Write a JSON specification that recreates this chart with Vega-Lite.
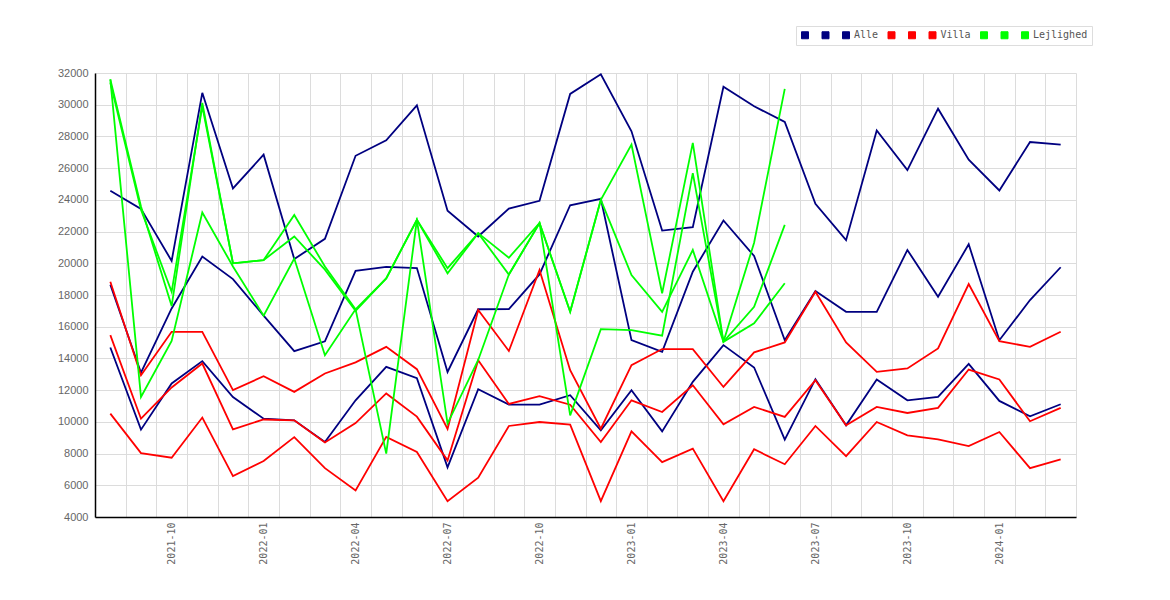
{
  "$schema": "https://vega.github.io/schema/vega-lite/v6.json",
  "width": 981,
  "height": 444,
  "autosize": {"type": "none"},
  "padding": {"left": 95, "top": 73, "right": 94, "bottom": 83},
  "background": "white",
  "config": {
    "view": {"stroke": null},
    "axis": {
      "domainColor": "#000000",
      "domainWidth": 1.5,
      "gridColor": "#dcdcdc",
      "gridWidth": 1,
      "ticks": false,
      "labelColor": "#666666",
      "title": null
    }
  },
  "datasets": {
    "prices": [
      {"m":"2021-08","s":"Alle a","v":24570},{"m":"2021-09","s":"Alle a","v":23430},{"m":"2021-10","s":"Alle a","v":20150},{"m":"2021-11","s":"Alle a","v":30750},{"m":"2021-12","s":"Alle a","v":24720},{"m":"2022-01","s":"Alle a","v":26850},{"m":"2022-02","s":"Alle a","v":20270},{"m":"2022-03","s":"Alle a","v":21540},{"m":"2022-04","s":"Alle a","v":26780},{"m":"2022-05","s":"Alle a","v":27750},{"m":"2022-06","s":"Alle a","v":29960},{"m":"2022-07","s":"Alle a","v":23310},{"m":"2022-08","s":"Alle a","v":21690},{"m":"2022-09","s":"Alle a","v":23450},{"m":"2022-10","s":"Alle a","v":23940},{"m":"2022-11","s":"Alle a","v":30680},{"m":"2022-12","s":"Alle a","v":31920},{"m":"2023-01","s":"Alle a","v":28320},{"m":"2023-02","s":"Alle a","v":22060},{"m":"2023-03","s":"Alle a","v":22280},{"m":"2023-04","s":"Alle a","v":31130},{"m":"2023-05","s":"Alle a","v":29900},{"m":"2023-06","s":"Alle a","v":28910},{"m":"2023-07","s":"Alle a","v":23750},{"m":"2023-08","s":"Alle a","v":21460},{"m":"2023-09","s":"Alle a","v":28380},{"m":"2023-10","s":"Alle a","v":25880},{"m":"2023-11","s":"Alle a","v":29750},{"m":"2023-12","s":"Alle a","v":26530},{"m":"2024-01","s":"Alle a","v":24590},{"m":"2024-02","s":"Alle a","v":27650},{"m":"2024-03","s":"Alle a","v":27480},

      {"m":"2021-08","s":"Alle b","v":14690},{"m":"2021-09","s":"Alle b","v":9510},{"m":"2021-10","s":"Alle b","v":12420},{"m":"2021-11","s":"Alle b","v":13830},{"m":"2021-12","s":"Alle b","v":11570},{"m":"2022-01","s":"Alle b","v":10200},{"m":"2022-02","s":"Alle b","v":10100},{"m":"2022-03","s":"Alle b","v":8730},{"m":"2022-04","s":"Alle b","v":11360},{"m":"2022-05","s":"Alle b","v":13470},{"m":"2022-06","s":"Alle b","v":12750},{"m":"2022-07","s":"Alle b","v":7130},{"m":"2022-08","s":"Alle b","v":12060},{"m":"2022-09","s":"Alle b","v":11090},{"m":"2022-10","s":"Alle b","v":11090},{"m":"2022-11","s":"Alle b","v":11680},{"m":"2022-12","s":"Alle b","v":9470},{"m":"2023-01","s":"Alle b","v":12000},{"m":"2023-02","s":"Alle b","v":9400},{"m":"2023-03","s":"Alle b","v":12520},{"m":"2023-04","s":"Alle b","v":14840},{"m":"2023-05","s":"Alle b","v":13430},{"m":"2023-06","s":"Alle b","v":8880},{"m":"2023-07","s":"Alle b","v":12690},{"m":"2023-08","s":"Alle b","v":9780},{"m":"2023-09","s":"Alle b","v":12670},{"m":"2023-10","s":"Alle b","v":11360},{"m":"2023-11","s":"Alle b","v":11570},{"m":"2023-12","s":"Alle b","v":13660},{"m":"2024-01","s":"Alle b","v":11320},{"m":"2024-02","s":"Alle b","v":10350},{"m":"2024-03","s":"Alle b","v":11110},

      {"m":"2021-08","s":"Alle","v":18650},{"m":"2021-09","s":"Alle","v":13100},{"m":"2021-10","s":"Alle","v":17150},{"m":"2021-11","s":"Alle","v":20420},{"m":"2021-12","s":"Alle","v":19000},{"m":"2022-01","s":"Alle","v":16700},{"m":"2022-02","s":"Alle","v":14460},{"m":"2022-03","s":"Alle","v":15080},{"m":"2022-04","s":"Alle","v":19520},{"m":"2022-05","s":"Alle","v":19770},{"m":"2022-06","s":"Alle","v":19700},{"m":"2022-07","s":"Alle","v":13150},{"m":"2022-08","s":"Alle","v":17100},{"m":"2022-09","s":"Alle","v":17110},{"m":"2022-10","s":"Alle","v":19300},{"m":"2022-11","s":"Alle","v":23660},{"m":"2022-12","s":"Alle","v":24070},{"m":"2023-01","s":"Alle","v":15150},{"m":"2023-02","s":"Alle","v":14420},{"m":"2023-03","s":"Alle","v":19470},{"m":"2023-04","s":"Alle","v":22700},{"m":"2023-05","s":"Alle","v":20460},{"m":"2023-06","s":"Alle","v":15150},{"m":"2023-07","s":"Alle","v":18250},{"m":"2023-08","s":"Alle","v":16940},{"m":"2023-09","s":"Alle","v":16940},{"m":"2023-10","s":"Alle","v":20840},{"m":"2023-11","s":"Alle","v":17890},{"m":"2023-12","s":"Alle","v":21200},{"m":"2024-01","s":"Alle","v":15150},{"m":"2024-02","s":"Alle","v":17680},{"m":"2024-03","s":"Alle","v":19750},

      {"m":"2021-08","s":"Villa a","v":18840},{"m":"2021-09","s":"Villa a","v":12940},{"m":"2021-10","s":"Villa a","v":15680},{"m":"2021-11","s":"Villa a","v":15680},{"m":"2021-12","s":"Villa a","v":12000},{"m":"2022-01","s":"Villa a","v":12880},{"m":"2022-02","s":"Villa a","v":11890},{"m":"2022-03","s":"Villa a","v":13050},{"m":"2022-04","s":"Villa a","v":13750},{"m":"2022-05","s":"Villa a","v":14730},{"m":"2022-06","s":"Villa a","v":13320},{"m":"2022-07","s":"Villa a","v":9550},{"m":"2022-08","s":"Villa a","v":17050},{"m":"2022-09","s":"Villa a","v":14470},{"m":"2022-10","s":"Villa a","v":19580},{"m":"2022-11","s":"Villa a","v":13260},{"m":"2022-12","s":"Villa a","v":9570},{"m":"2023-01","s":"Villa a","v":13580},{"m":"2023-02","s":"Villa a","v":14590},{"m":"2023-03","s":"Villa a","v":14590},{"m":"2023-04","s":"Villa a","v":12200},{"m":"2023-05","s":"Villa a","v":14380},{"m":"2023-06","s":"Villa a","v":15010},{"m":"2023-07","s":"Villa a","v":18210},{"m":"2023-08","s":"Villa a","v":15010},{"m":"2023-09","s":"Villa a","v":13150},{"m":"2023-10","s":"Villa a","v":13370},{"m":"2023-11","s":"Villa a","v":14630},{"m":"2023-12","s":"Villa a","v":18690},{"m":"2024-01","s":"Villa a","v":15090},{"m":"2024-02","s":"Villa a","v":14730},{"m":"2024-03","s":"Villa a","v":15680},

      {"m":"2021-08","s":"Villa b","v":10520},{"m":"2021-09","s":"Villa b","v":8030},{"m":"2021-10","s":"Villa b","v":7740},{"m":"2021-11","s":"Villa b","v":10270},{"m":"2021-12","s":"Villa b","v":6580},{"m":"2022-01","s":"Villa b","v":7530},{"m":"2022-02","s":"Villa b","v":9040},{"m":"2022-03","s":"Villa b","v":7080},{"m":"2022-04","s":"Villa b","v":5670},{"m":"2022-05","s":"Villa b","v":9050},{"m":"2022-06","s":"Villa b","v":8100},{"m":"2022-07","s":"Villa b","v":5000},{"m":"2022-08","s":"Villa b","v":6480},{"m":"2022-09","s":"Villa b","v":9740},{"m":"2022-10","s":"Villa b","v":9990},{"m":"2022-11","s":"Villa b","v":9830},{"m":"2022-12","s":"Villa b","v":5000},{"m":"2023-01","s":"Villa b","v":9400},{"m":"2023-02","s":"Villa b","v":7460},{"m":"2023-03","s":"Villa b","v":8310},{"m":"2023-04","s":"Villa b","v":5000},{"m":"2023-05","s":"Villa b","v":8270},{"m":"2023-06","s":"Villa b","v":7330},{"m":"2023-07","s":"Villa b","v":9740},{"m":"2023-08","s":"Villa b","v":7840},{"m":"2023-09","s":"Villa b","v":9990},{"m":"2023-10","s":"Villa b","v":9150},{"m":"2023-11","s":"Villa b","v":8900},{"m":"2023-12","s":"Villa b","v":8470},{"m":"2024-01","s":"Villa b","v":9360},{"m":"2024-02","s":"Villa b","v":7080},{"m":"2024-03","s":"Villa b","v":7630},

      {"m":"2021-08","s":"Villa","v":15470},{"m":"2021-09","s":"Villa","v":10200},{"m":"2021-10","s":"Villa","v":12170},{"m":"2021-11","s":"Villa","v":13680},{"m":"2021-12","s":"Villa","v":9530},{"m":"2022-01","s":"Villa","v":10150},{"m":"2022-02","s":"Villa","v":10100},{"m":"2022-03","s":"Villa","v":8700},{"m":"2022-04","s":"Villa","v":9920},{"m":"2022-05","s":"Villa","v":11790},{"m":"2022-06","s":"Villa","v":10330},{"m":"2022-07","s":"Villa","v":7570},{"m":"2022-08","s":"Villa","v":13890},{"m":"2022-09","s":"Villa","v":11130},{"m":"2022-10","s":"Villa","v":11620},{"m":"2022-11","s":"Villa","v":11080},{"m":"2022-12","s":"Villa","v":8730},{"m":"2023-01","s":"Villa","v":11360},{"m":"2023-02","s":"Villa","v":10620},{"m":"2023-03","s":"Villa","v":12310},{"m":"2023-04","s":"Villa","v":9850},{"m":"2023-05","s":"Villa","v":10940},{"m":"2023-06","s":"Villa","v":10310},{"m":"2023-07","s":"Villa","v":12630},{"m":"2023-08","s":"Villa","v":9780},{"m":"2023-09","s":"Villa","v":10940},{"m":"2023-10","s":"Villa","v":10560},{"m":"2023-11","s":"Villa","v":10880},{"m":"2023-12","s":"Villa","v":13300},{"m":"2024-01","s":"Villa","v":12670},{"m":"2024-02","s":"Villa","v":10040},{"m":"2024-03","s":"Villa","v":10880},

      {"m":"2021-08","s":"Lejlighed a","v":31600},{"m":"2021-09","s":"Lejlighed a","v":23580},{"m":"2021-10","s":"Lejlighed a","v":17300},{"m":"2021-11","s":"Lejlighed a","v":30110},{"m":"2021-12","s":"Lejlighed a","v":20000},{"m":"2022-01","s":"Lejlighed a","v":20200},{"m":"2022-02","s":"Lejlighed a","v":23050},{"m":"2022-03","s":"Lejlighed a","v":19800},{"m":"2022-04","s":"Lejlighed a","v":17100},{"m":"2022-05","s":"Lejlighed a","v":8000},{"m":"2022-06","s":"Lejlighed a","v":22740},{"m":"2022-07","s":"Lejlighed a","v":19370},{"m":"2022-08","s":"Lejlighed a","v":21900},{"m":"2022-09","s":"Lejlighed a","v":20350},{"m":"2022-10","s":"Lejlighed a","v":22540},{"m":"2022-11","s":"Lejlighed a","v":16940},{"m":"2022-12","s":"Lejlighed a","v":24000},{"m":"2023-01","s":"Lejlighed a","v":27480},{"m":"2023-02","s":"Lejlighed a","v":18110},{"m":"2023-03","s":"Lejlighed a","v":27590},{"m":"2023-04","s":"Lejlighed a","v":15050},{"m":"2023-05","s":"Lejlighed a","v":21300},{"m":"2023-06","s":"Lejlighed a","v":31000},

      {"m":"2021-08","s":"Lejlighed b","v":31400},{"m":"2021-09","s":"Lejlighed b","v":23370},{"m":"2021-10","s":"Lejlighed b","v":18200},{"m":"2021-11","s":"Lejlighed b","v":29900},{"m":"2021-12","s":"Lejlighed b","v":20000},{"m":"2022-01","s":"Lejlighed b","v":20200},{"m":"2022-02","s":"Lejlighed b","v":21690},{"m":"2022-03","s":"Lejlighed b","v":19600},{"m":"2022-04","s":"Lejlighed b","v":17000},{"m":"2022-05","s":"Lejlighed b","v":19050},{"m":"2022-06","s":"Lejlighed b","v":22740},{"m":"2022-07","s":"Lejlighed b","v":19690},{"m":"2022-08","s":"Lejlighed b","v":21900},{"m":"2022-09","s":"Lejlighed b","v":19290},{"m":"2022-10","s":"Lejlighed b","v":22540},{"m":"2022-11","s":"Lejlighed b","v":16940},{"m":"2022-12","s":"Lejlighed b","v":24000},{"m":"2023-01","s":"Lejlighed b","v":19260},{"m":"2023-02","s":"Lejlighed b","v":16940},{"m":"2023-03","s":"Lejlighed b","v":20840},{"m":"2023-04","s":"Lejlighed b","v":15050},{"m":"2023-05","s":"Lejlighed b","v":16210},{"m":"2023-06","s":"Lejlighed b","v":18740},

      {"m":"2021-08","s":"Lejlighed","v":31600},{"m":"2021-09","s":"Lejlighed","v":11570},{"m":"2021-10","s":"Lejlighed","v":15100},{"m":"2021-11","s":"Lejlighed","v":23200},{"m":"2021-12","s":"Lejlighed","v":19800},{"m":"2022-01","s":"Lejlighed","v":16700},{"m":"2022-02","s":"Lejlighed","v":20300},{"m":"2022-03","s":"Lejlighed","v":14200},{"m":"2022-04","s":"Lejlighed","v":17100},{"m":"2022-05","s":"Lejlighed","v":19050},{"m":"2022-06","s":"Lejlighed","v":22740},{"m":"2022-07","s":"Lejlighed","v":9890},{"m":"2022-08","s":"Lejlighed","v":13900},{"m":"2022-09","s":"Lejlighed","v":19290},{"m":"2022-10","s":"Lejlighed","v":22540},{"m":"2022-11","s":"Lejlighed","v":10410},{"m":"2022-12","s":"Lejlighed","v":15850},{"m":"2023-01","s":"Lejlighed","v":15790},{"m":"2023-02","s":"Lejlighed","v":15430},{"m":"2023-03","s":"Lejlighed","v":25690},{"m":"2023-04","s":"Lejlighed","v":15050},{"m":"2023-05","s":"Lejlighed","v":17260},{"m":"2023-06","s":"Lejlighed","v":22420}
    ]
  },
  "data": {"name": "prices"},
  "mark": {"type": "line", "strokeWidth": 1.8, "strokeJoin": "miter"},
  "encoding": {
    "x": {
      "field": "m",
      "type": "ordinal",
      "scale": {
        "type": "band",
        "paddingInner": 0,
        "paddingOuter": 0,
        "domain": ["2021-08","2021-09","2021-10","2021-11","2021-12","2022-01","2022-02","2022-03","2022-04","2022-05","2022-06","2022-07","2022-08","2022-09","2022-10","2022-11","2022-12","2023-01","2023-02","2023-03","2023-04","2023-05","2023-06","2023-07","2023-08","2023-09","2023-10","2023-11","2023-12","2024-01","2024-02","2024-03"]
      },
      "axis": {
        "grid": true,
        "tickBand": "extent",
        "labelAngle": 270,
        "labelFont": "DejaVu Sans Mono",
        "labelFontSize": 10,
        "labelPadding": 5,
        "labelExpr": "slice(datum.label, 5) == '01' || slice(datum.label, 5) == '04' || slice(datum.label, 5) == '07' || slice(datum.label, 5) == '10' ? datum.label : ''"
      }
    },
    "y": {
      "field": "v",
      "type": "quantitative",
      "scale": {"domain": [4000, 32000], "nice": false, "zero": false},
      "axis": {
        "values": [4000, 6000, 8000, 10000, 12000, 14000, 16000, 18000, 20000, 22000, 24000, 26000, 28000, 30000, 32000],
        "format": "d",
        "labelFont": "Liberation Sans",
        "labelFontSize": 11,
        "labelPadding": 7
      }
    },
    "color": {
      "field": "s",
      "type": "nominal",
      "scale": {
        "domain": ["Alle a", "Alle b", "Alle", "Villa a", "Villa b", "Villa", "Lejlighed a", "Lejlighed b", "Lejlighed"],
        "range": ["#000080", "#000080", "#000080", "#ff0000", "#ff0000", "#ff0000", "#00ff00", "#00ff00", "#00ff00"]
      },
      "legend": {
        "title": null,
        "orient": "none",
        "direction": "horizontal",
        "legendX": 701,
        "legendY": -47,
        "padding": 4,
        "strokeColor": "#dddddd",
        "fillColor": "#ffffff",
        "symbolType": "square",
        "symbolSize": 49,
        "symbolStrokeWidth": 1,
        "labelFont": "DejaVu Sans Mono",
        "labelFontSize": 10,
        "labelColor": "#555555",
        "labelOffset": 3,
        "columnPadding": 6.5,
        "labelExpr": "slice(datum.label, -2) == ' a' || slice(datum.label, -2) == ' b' ? ' ' : datum.label",
        "encode": {
          "symbols": {
            "update": {
              "fill": {"scale": "color", "field": "value"},
              "stroke": {"value": "#555555"},
              "strokeWidth": {"value": 1},
              "opacity": {"value": 1}
            }
          }
        }
      }
    }
  }
}
